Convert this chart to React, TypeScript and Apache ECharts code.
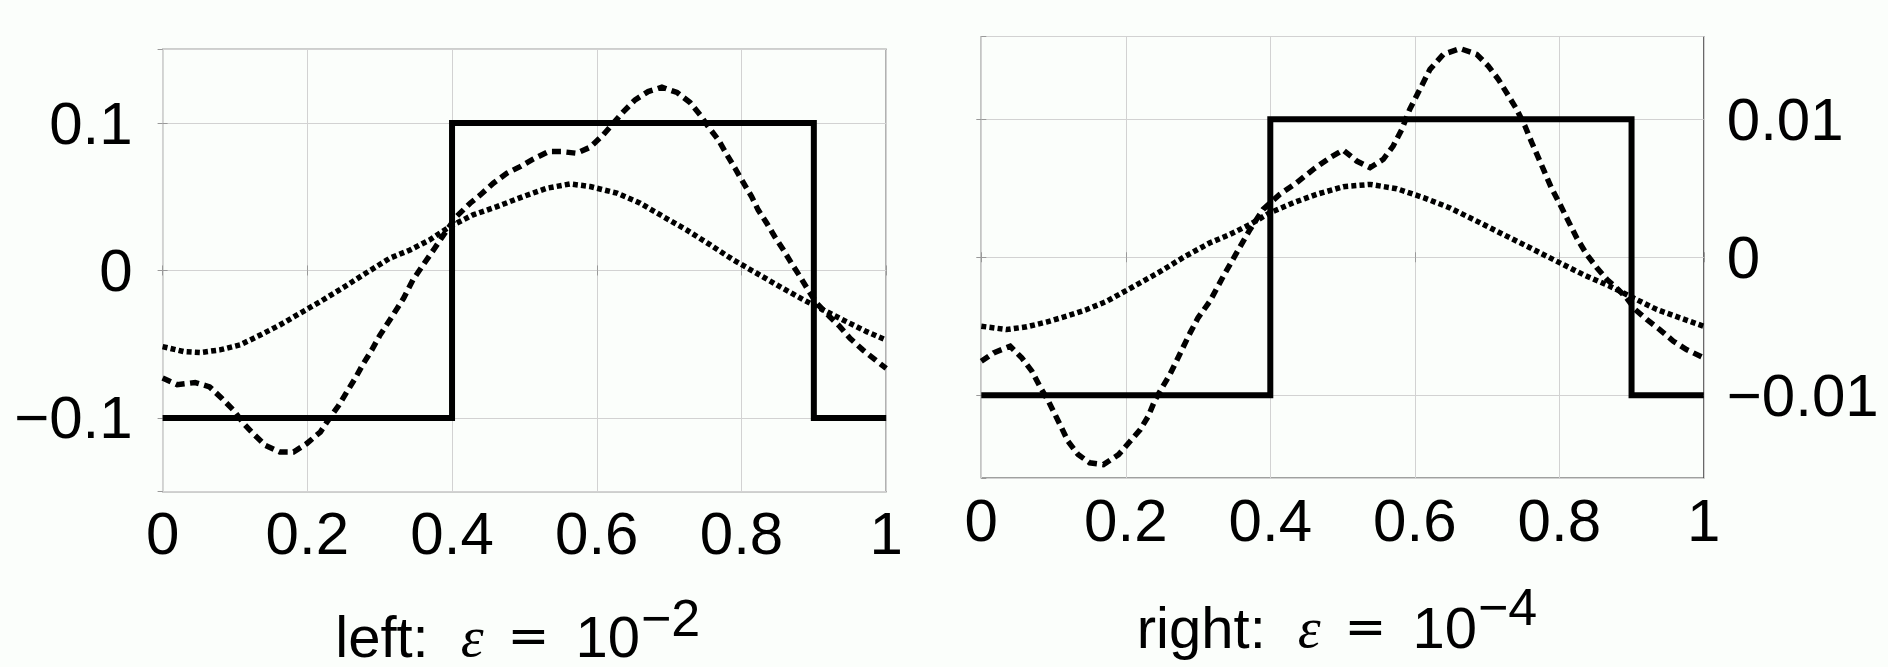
import React, { useEffect, useRef } from 'react';
import * as echarts from 'echarts';

// ---------- data ----------
const xTickValues = [0, 0.2, 0.4, 0.6, 0.8, 1];
const leftYTickValues = [-0.1, 0, 0.1];
const rightYTickValues = [-0.01, 0, 0.01];
const leftYRange = [-0.15, 0.15];
const rightYRange = [-0.016, 0.016];

const leftTitle = { label: 'left:', exponent: '\u22122' };
const rightTitle = { label: 'right:', exponent: '\u22124' };

// step (solid) curves
const leftStep: number[][] = [[0, -0.1], [0.4, -0.1], [0.4, 0.1], [0.9, 0.1], [0.9, -0.1], [1, -0.1]];
const rightStep: number[][] = [[0, -0.01], [0.4, -0.01], [0.4, 0.01], [0.9, 0.01], [0.9, -0.01], [1, -0.01]];

// dashed curves
const leftDashed: number[][] = [
  [0, -0.073], [0.02, -0.0775], [0.045, -0.076], [0.065, -0.079], [0.082, -0.0868], [0.098, -0.0948],
  [0.112, -0.1038], [0.125, -0.1106], [0.142, -0.1187], [0.162, -0.1232], [0.181, -0.1232], [0.199, -0.1175],
  [0.218, -0.1096], [0.231, -0.1], [0.243, -0.0918], [0.254, -0.0829], [0.266, -0.0733], [0.277, -0.0635],
  [0.289, -0.054], [0.3, -0.0442], [0.314, -0.0336], [0.333, -0.0189], [0.346, -0.0064], [0.36, 0.0037],
  [0.376, 0.0151], [0.393, 0.0275], [0.406, 0.0365], [0.425, 0.0456], [0.439, 0.0512], [0.457, 0.0592],
  [0.476, 0.066], [0.494, 0.0704], [0.512, 0.0755], [0.533, 0.0806], [0.552, 0.0806], [0.572, 0.0795],
  [0.591, 0.0836], [0.609, 0.092], [0.623, 0.0999], [0.637, 0.1078], [0.653, 0.1157], [0.671, 0.1213],
  [0.69, 0.1243], [0.711, 0.1207], [0.729, 0.1139], [0.743, 0.1055], [0.754, 0.0976], [0.768, 0.0886],
  [0.78, 0.0784], [0.791, 0.0694], [0.803, 0.0592], [0.814, 0.0501], [0.823, 0.0411], [0.835, 0.032],
  [0.846, 0.0229], [0.858, 0.0139], [0.869, 0.0049], [0.881, -0.0042], [0.892, -0.0132], [0.904, -0.0223],
  [0.922, -0.0314], [0.936, -0.0381], [0.95, -0.046], [0.968, -0.054], [0.985, -0.0607], [1, -0.0664],
];
const rightDashed: number[][] = [
  [0, -0.00754], [0.017, -0.00693], [0.04, -0.00645], [0.056, -0.00729], [0.07, -0.00826], [0.081, -0.00935],
  [0.093, -0.01044], [0.109, -0.01213], [0.12, -0.01334], [0.134, -0.0143], [0.15, -0.0149], [0.169, -0.01503],
  [0.19, -0.0143], [0.206, -0.01334], [0.22, -0.01249], [0.231, -0.01153], [0.24, -0.0104], [0.25, -0.00947],
  [0.261, -0.0085], [0.27, -0.00754], [0.28, -0.00645], [0.289, -0.00548], [0.3, -0.00439], [0.3165, -0.00318],
  [0.335, -0.00137], [0.3535, 0.00033], [0.372, 0.00202], [0.39, 0.00347], [0.413, 0.00456], [0.4365, 0.0054],
  [0.4595, 0.00637], [0.4826, 0.00722], [0.501, 0.00777], [0.5196, 0.00697], [0.538, 0.00649], [0.5564, 0.0071],
  [0.57, 0.00806], [0.582, 0.00927], [0.593, 0.01072], [0.607, 0.01217], [0.621, 0.01362], [0.6395, 0.01471],
  [0.6626, 0.01513], [0.6857, 0.01471], [0.7017, 0.01386], [0.7156, 0.0129], [0.727, 0.01193], [0.741, 0.01072],
  [0.7525, 0.00951], [0.762, 0.0083], [0.771, 0.00722], [0.78, 0.00613], [0.789, 0.00504], [0.801, 0.00383],
  [0.8125, 0.00262], [0.824, 0.00141], [0.838, 0.0002], [0.852, -0.00076], [0.866, -0.00161], [0.879, -0.00221],
  [0.893, -0.00294], [0.905, -0.00379], [0.921, -0.00451], [0.939, -0.00524], [0.958, -0.00609], [0.976, -0.00669],
  [1, -0.00729],
];

// dotted curves
const leftDotted: number[][] = [
  [0, -0.0517], [0.029, -0.055], [0.052, -0.0557], [0.079, -0.0539], [0.107, -0.0505], [0.135, -0.0438],
  [0.162, -0.037], [0.19, -0.029], [0.218, -0.0211], [0.25, -0.0115], [0.28, -0.0021], [0.314, 0.0083],
  [0.342, 0.0139], [0.369, 0.0207], [0.397, 0.0297], [0.429, 0.0377], [0.462, 0.0433], [0.498, 0.0501],
  [0.531, 0.0558], [0.563, 0.0587], [0.591, 0.0569], [0.628, 0.0524], [0.66, 0.0456], [0.692, 0.0365],
  [0.724, 0.0275], [0.757, 0.0173], [0.789, 0.0071], [0.821, -0.0019], [0.853, -0.011], [0.886, -0.02],
  [0.913, -0.0268], [0.945, -0.0347], [0.973, -0.0415], [1, -0.0472],
];
const rightDotted: number[][] = [
  [0, -0.005], [0.035, -0.00524], [0.063, -0.00504], [0.09, -0.0047], [0.118, -0.00427], [0.146, -0.00379],
  [0.174, -0.00318], [0.21, -0.00214], [0.245, -0.00112], [0.28, 0.0], [0.3165, 0.00105], [0.344, 0.00165],
  [0.372, 0.00238], [0.3996, 0.00323], [0.432, 0.00395], [0.464, 0.00456], [0.501, 0.00511], [0.538, 0.00528],
  [0.575, 0.00497], [0.612, 0.00432], [0.648, 0.00359], [0.6857, 0.00262], [0.7225, 0.00165], [0.7595, 0.00069],
  [0.796, -0.00028], [0.833, -0.00125], [0.87, -0.0021], [0.902, -0.00294], [0.935, -0.00379], [0.967, -0.00439],
  [1, -0.005],
];

// ---------- styling ----------
const SANS = "'Liberation Sans', Arial, sans-serif";
const SERIF = "'Liberation Serif', 'DejaVu Serif', serif";
const BG = '#fbfefb';
const LABEL_SIZE = 60;
const TITLE_SIZE = 58;

const fmtTick = (ticks: number[]) => (v: number) => {
  const hit = ticks.find((t) => Math.abs(t - v) < 1e-9);
  if (hit === undefined) return '';
  if (hit === 0) return '0';
  return (hit < 0 ? '\u2212' : '') + String(Math.abs(hit));
};

const tickStyle = { show: true, inside: true, length: 5, lineStyle: { color: '#999', width: 1 } };

function makeXAxes(gridIndex: number) {
  return [
    {
      type: 'value', gridIndex, min: 0, max: 1, interval: 0.2, position: 'bottom',
      axisLine: { show: false },
      axisTick: tickStyle,
      splitLine: { show: true, lineStyle: { color: '#d2d2d2', width: 1 } },
      axisLabel: {
        show: true, margin: 12, color: '#000', fontSize: LABEL_SIZE, fontFamily: SANS,
        formatter: fmtTick(xTickValues), showMinLabel: true, showMaxLabel: true,
      },
    },
    {
      type: 'value', gridIndex, min: 0, max: 1, interval: 0.2, position: 'top',
      axisLine: { show: false }, axisTick: tickStyle, splitLine: { show: false }, axisLabel: { show: false },
    },
  ];
}

function makeYAxes(gridIndex: number, range: number[], ticks: number[], labelSide: 'left' | 'right', margin: number) {
  const other = labelSide === 'left' ? 'right' : 'left';
  return [
    {
      type: 'value', gridIndex, min: range[0], max: range[1], splitNumber: 3, position: labelSide,
      axisLine: { show: false },
      axisTick: tickStyle,
      splitLine: { show: true, lineStyle: { color: '#d2d2d2', width: 1 } },
      axisLabel: {
        show: true, margin, color: '#000', fontSize: LABEL_SIZE, fontFamily: SANS,
        formatter: fmtTick(ticks), showMinLabel: false, showMaxLabel: false,
      },
    },
    {
      type: 'value', gridIndex, min: range[0], max: range[1], splitNumber: 3, position: other,
      axisLine: { show: false }, axisTick: tickStyle, splitLine: { show: false }, axisLabel: { show: false },
    },
  ];
}

function lineSeries(data: number[][], axisIndex: number, kind: 'solid' | 'dashed' | 'dotted') {
  const type = kind === 'solid' ? 'solid' : kind === 'dashed' ? [9, 5.5] : [5, 3.2];
  return {
    type: 'line', data, xAxisIndex: axisIndex, yAxisIndex: axisIndex, showSymbol: false, symbol: 'none',
    smooth: false, z: kind === 'solid' ? 3 : 4,
    lineStyle: { color: '#000', width: kind === 'solid' ? 6 : 5.5, type, cap: 'butt', join: 'miter' },
  };
}

function titleElements(t: { label: string; exponent: string }, mainRight: number, mainY: number, supY: number) {
  return [
    {
      type: 'text', x: mainRight, y: mainY,
      style: {
        text: `{t|${t.label}}{e|\u03b5}{q|=}{t|10}`,
        align: 'right', verticalAlign: 'middle', textAlign: 'right', textVerticalAlign: 'middle',
        fill: '#000',
        rich: {
          t: { fontSize: TITLE_SIZE, fontFamily: SANS, fill: '#000', color: '#000', lineHeight: 46 },
          e: { fontSize: 58, fontFamily: SERIF, fontStyle: 'italic', fill: '#000', color: '#000', lineHeight: 46, padding: [0, 24, 0, 32] },
          q: { fontSize: 50, fontFamily: "'DejaVu Sans', sans-serif", fill: '#000', color: '#000', lineHeight: 46, padding: [0, 26, 0, 0] },
        },
      },
    },
    {
      type: 'text', x: mainRight + 1, y: supY,
      style: {
        text: t.exponent, fontSize: 52, fontFamily: SANS, fill: '#000', lineHeight: 40,
        align: 'left', verticalAlign: 'middle', textAlign: 'left', textVerticalAlign: 'middle',
      },
    },
  ];
}

export default function App() {
  const ref = useRef<HTMLDivElement>(null);
  useEffect(() => {
    if (!ref.current) return;
    const chart = echarts.init(ref.current, undefined, { renderer: 'svg' });
    chart.setOption({
      animation: false,
      backgroundColor: BG,
      grid: [
        { left: 162.6, top: 49.3, width: 723.6, height: 442.3, show: true, borderColor: '#444', borderWidth: 1.2, backgroundColor: 'transparent', containLabel: false, outerBoundsMode: 'none' },
        { left: 981.3, top: 36.5, width: 722.5, height: 441.5, show: true, borderColor: '#444', borderWidth: 1.2, backgroundColor: 'transparent', containLabel: false, outerBoundsMode: 'none' },
      ],
      xAxis: [...makeXAxes(0), ...makeXAxes(1)],
      yAxis: [
        ...makeYAxes(0, leftYRange, leftYTickValues, 'left', 30),
        ...makeYAxes(1, rightYRange, rightYTickValues, 'right', 23),
      ],
      series: [
        lineSeries(leftStep, 0, 'solid'),
        lineSeries(leftDashed, 0, 'dashed'),
        lineSeries(leftDotted, 0, 'dotted'),
        lineSeries(rightStep, 2, 'solid'),
        lineSeries(rightDashed, 2, 'dashed'),
        lineSeries(rightDotted, 2, 'dotted'),
      ],
      graphic: [
        ...titleElements(leftTitle, 640, 636, 618),
        ...titleElements(rightTitle, 1477, 627, 607),
      ],
    });
    return () => chart.dispose();
  }, []);
  return (
    <div
      ref={ref}
      style={{ position: 'absolute', left: 0, top: 0, width: 1888, height: 667, background: BG }}
    />
  );
}
